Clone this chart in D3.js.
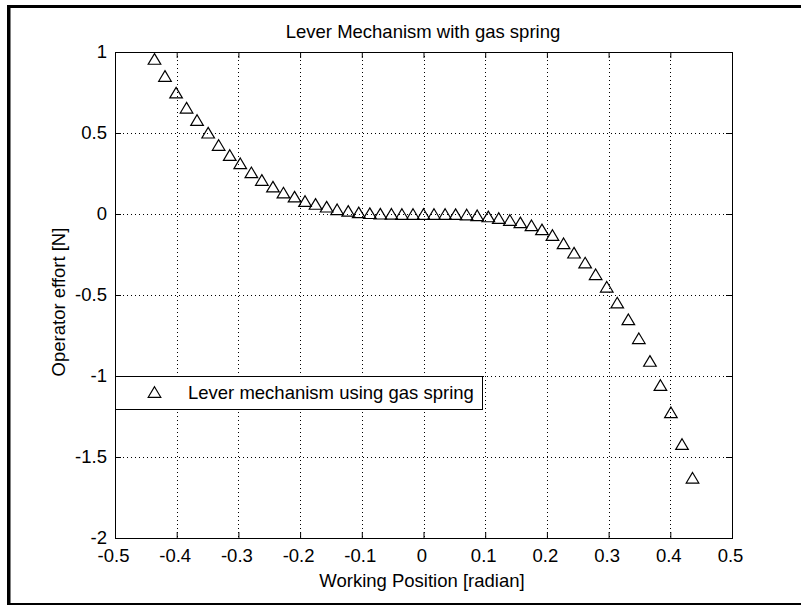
<!DOCTYPE html>
<html>
<head>
<meta charset="utf-8">
<script src="https://cdn.jsdelivr.net/npm/d3@7"></script>
<style>
  body { margin: 0; background: #fff; }
  svg { display: block; font-family: 'Liberation Sans', Arial, Helvetica, sans-serif; }
</style>
</head>
<body>
<div id="chart"></div>
<script>
'use strict';

// working position [radian], -25 .. 25 deg
var positions = [-0.436, -0.419, -0.401, -0.384, -0.367, -0.349, -0.332, -0.314, -0.297, -0.279,
    -0.262, -0.244, -0.227, -0.209, -0.192, -0.175, -0.157, -0.140, -0.122, -0.105,
    -0.087, -0.070, -0.052, -0.035, -0.017, 0, 0.017, 0.035, 0.052, 0.070,
    0.087, 0.105, 0.122, 0.140, 0.157, 0.175, 0.192, 0.209, 0.227, 0.244,
    0.262, 0.279, 0.297, 0.314, 0.332, 0.349, 0.367, 0.384, 0.401, 0.419, 0.436];

// operator effort [N]
var effort = [0.957, 0.852, 0.749, 0.656, 0.580, 0.502, 0.426, 0.364, 0.313, 0.257,
    0.210, 0.169, 0.132, 0.107, 0.080, 0.062, 0.045, 0.029, 0.019, 0.010,
    0.005, 0.002, 0.001, 0, 0, 0, 0, 0, -0.001, -0.003,
    -0.008, -0.015, -0.025, -0.037, -0.052, -0.070, -0.095, -0.130, -0.181, -0.239,
    -0.300, -0.372, -0.449, -0.547, -0.650, -0.767, -0.907, -1.056, -1.224, -1.420, -1.628];

var xTicks = [-0.5, -0.4, -0.3, -0.2, -0.1, 0, 0.1, 0.2, 0.3, 0.4, 0.5];
var yTicks = [-2, -1.5, -1, -0.5, 0, 0.5, 1];

var seriesName = 'Lever mechanism using gas spring';

var width = 801, height = 605;
var plotLeft = 115, plotRight = 732, plotTop = 52, plotBottom = 538;
var fontSize = 18.5;

var svg = d3.select('#chart').append('svg')
    .attr('width', width)
    .attr('height', height);

// figure frame (left, top, bottom edges)
svg.append('rect').attr('x', 7).attr('y', 5).attr('width', width - 7).attr('height', 3).attr('fill', '#000');
svg.append('rect').attr('x', 7).attr('y', 5).attr('width', 3.5).attr('height', height - 5).attr('fill', '#000');
svg.append('rect').attr('x', 7).attr('y', 603).attr('width', width - 7).attr('height', 2).attr('fill', '#000');

var x = d3.scaleLinear().domain([-0.5, 0.5]).range([plotLeft, plotRight]);
var y = d3.scaleLinear().domain([-2, 1]).range([plotBottom, plotTop]);

var fmt = function(d) { return String(d); };

// dotted grid
var grid = svg.append('g').attr('stroke', '#000').attr('stroke-width', 1).attr('stroke-dasharray', '1,3');
grid.selectAll('.gx').data(xTicks.slice(1, -1)).enter().append('line')
    .attr('x1', function(d) { return Math.round(x(d)) + 0.5; })
    .attr('x2', function(d) { return Math.round(x(d)) + 0.5; })
    .attr('y1', plotTop).attr('y2', plotBottom);
grid.selectAll('.gy').data(yTicks.slice(1, -1)).enter().append('line')
    .attr('y1', function(d) { return Math.round(y(d)) + 0.5; })
    .attr('y2', function(d) { return Math.round(y(d)) + 0.5; })
    .attr('x1', plotLeft).attr('x2', plotRight);

// axes, ticks pointing inward
function styleAxis(g) {
    g.select('.domain').remove();
    g.selectAll('.tick line').attr('stroke', '#000');
    g.selectAll('.tick text').attr('fill', '#000').style('font-size', fontSize + 'px');
}

svg.append('g').attr('transform', 'translate(0,' + plotBottom + ')')
    .call(d3.axisBottom(x).tickValues(xTicks).tickFormat(fmt).tickSize(-6).tickPadding(11))
    .call(styleAxis)
    .selectAll('.tick text').attr('dx', -2);
svg.append('g').attr('transform', 'translate(0,' + plotTop + ')')
    .call(d3.axisTop(x).tickValues(xTicks).tickFormat('').tickSize(-6))
    .call(styleAxis);
svg.append('g').attr('transform', 'translate(' + plotLeft + ',0)')
    .call(d3.axisLeft(y).tickValues(yTicks).tickFormat(fmt).tickSize(-6).tickPadding(8))
    .call(styleAxis);
svg.append('g').attr('transform', 'translate(' + plotRight + ',0)')
    .call(d3.axisRight(y).tickValues(yTicks).tickFormat('').tickSize(-6))
    .call(styleAxis);

svg.append('rect')
    .attr('x', plotLeft + 0.5).attr('y', plotTop + 0.5)
    .attr('width', plotRight - plotLeft).attr('height', plotBottom - plotTop)
    .attr('fill', 'none').attr('stroke', '#000').attr('stroke-width', 1);

// triangle markers
var tri = 'M0,-5.3L6.3,5.3L-6.3,5.3Z';
svg.append('g').selectAll('path').data(positions).enter().append('path')
    .attr('d', tri)
    .attr('transform', function(d, i) { return 'translate(' + x(d) + ',' + y(effort[i]) + ')'; })
    .attr('fill', 'none').attr('stroke', '#000').attr('stroke-width', 1.2);

// labels
svg.append('text').attr('x', 423).attr('y', 38).attr('text-anchor', 'middle')
    .style('font-size', fontSize + 'px').text('Lever Mechanism with gas spring');
svg.append('text').attr('x', 422).attr('y', 587).attr('text-anchor', 'middle')
    .style('font-size', fontSize + 'px').text('Working Position [radian]');
svg.append('text').attr('transform', 'translate(65,302) rotate(-90)').attr('text-anchor', 'middle')
    .style('font-size', fontSize + 'px').text('Operator effort [N]');

// legend
var legend = svg.append('g');
legend.append('rect')
    .attr('x', plotLeft + 0.5).attr('y', y(-1) + 0.5)
    .attr('width', 367).attr('height', 33)
    .attr('fill', '#fff').attr('stroke', '#000').attr('stroke-width', 1);
legend.append('path').attr('d', tri)
    .attr('transform', 'translate(154.5,392)')
    .attr('fill', 'none').attr('stroke', '#000').attr('stroke-width', 1.2);
legend.append('text').attr('x', 188).attr('y', 399)
    .style('font-size', fontSize + 'px').text(seriesName);
</script>
</body>
</html>
